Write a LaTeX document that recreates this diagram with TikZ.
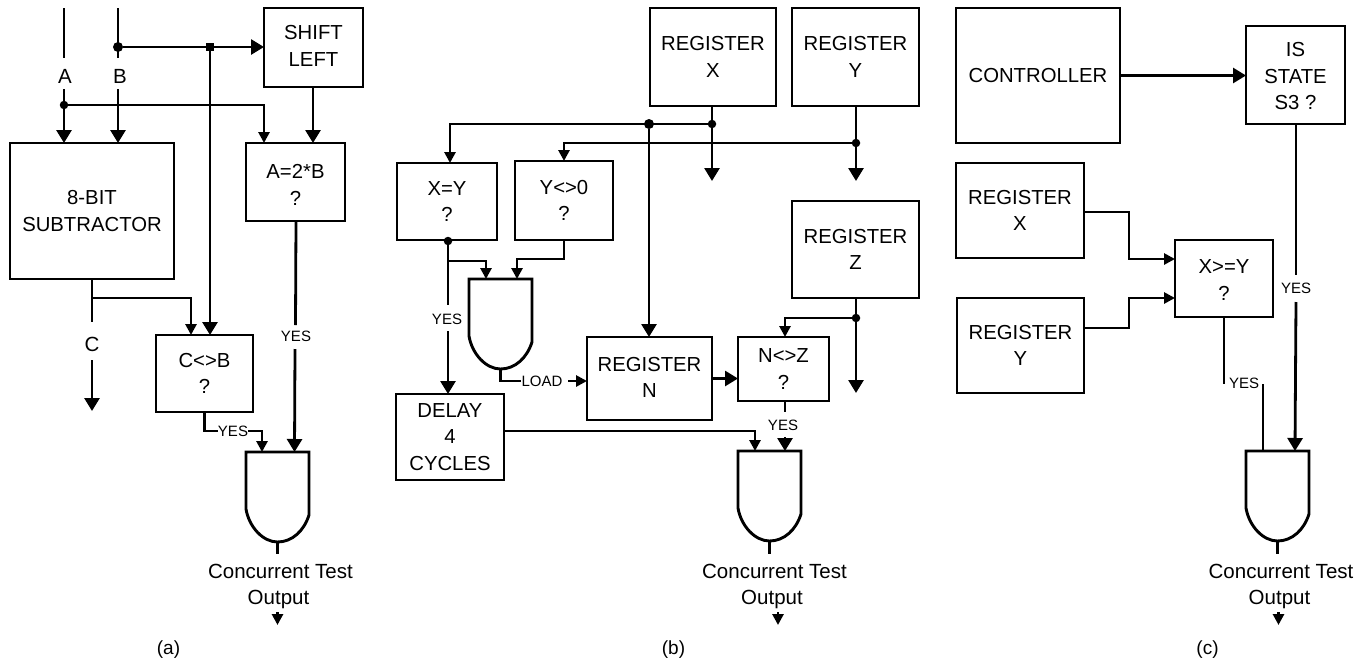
\documentclass[tikz,border=0pt]{standalone}
\usepackage{fontspec}
\setmainfont{Liberation Sans}
\usetikzlibrary{arrows.meta}
\tikzset{
  x=1pt,y=-1pt,
  conn/.style={line width=2.8pt,line join=miter},
  big/.style={conn,-{Triangle[length=13pt,width=15pt]}},
  mid/.style={conn,-{Triangle[length=11pt,width=11pt]}},
  bx/.style={draw,line width=2.9pt,inner sep=0pt,outer sep=0pt,align=center,font=\fontsize{20.3}{26.5}\selectfont},
  lab/.style={inner sep=0pt,font=\fontsize{20.5}{26}\selectfont,align=center},
  capt/.style={inner sep=0pt,font=\fontsize{19}{22}\selectfont},
  yes/.style={inner sep=0pt,font=\fontsize{15}{18}\selectfont},
  dotj/.style={circle,fill,inner sep=0pt,minimum size=10pt},
  dots/.style={circle,fill,inner sep=0pt,minimum size=8.5pt},
  sqj/.style={rectangle,fill,inner sep=0pt,minimum size=8pt},
  gate/.style={inner sep=0pt,outer sep=0pt,minimum width=63pt,minimum height=90pt},
}
% box: name, x0, y0, x1, y1, text
\newcommand{\rbox}[6]{%
  \node[bx,minimum width=#4pt-#2pt,minimum height=#5pt-#3pt] (#1) at ({(#2+#4)/2},{(#3+#5)/2}) {#6};}
% gate: name, left x, top y
\newcommand{\agate}[3]{\node[gate] (#1) at ({#2+31.5},{#3+45}) {};
  \draw[line width=2.9pt,line join=miter]
    (#1.south west |- #1.north) -- (#1.north east) -- ({#2+63},{#3+63})
    .. controls ({#2+58},{#3+79}) and ({#2+46},{#3+90}) .. (#1.south)
    .. controls ({#2+17},{#3+90}) and ({#2+3},{#3+75}) .. ({#2},{#3+57}) -- cycle;}
\begin{document}
\begin{tikzpicture}
\useasboundingbox (0,0) rectangle (1369,667);
% ---------- (a)
\rbox{sl}{264}{8}{363}{87}{SHIFT\\LEFT\rule[-3.4pt]{0pt}{0pt}}
\rbox{sub}{10}{143}{174}{279}{8-BIT\\SUBTRACTOR}
\rbox{ab}{246}{143}{345}{221}{\rule{0pt}{19.5pt}A=2*B\\?}
\rbox{cb}{156}{335}{253}{412}{C<>B\\?}
\agate{ga}{246}{452}
\node[lab] (la) at (65,76) {A};
\node[lab] (lb) at (120,76) {B};
\node[lab] (lc) at (92,344) {C};
\coordinate (atop) at (64,8);
\coordinate (btop) at (118,8);
\node[dotj] (bd) at (118,47) {};
\node[sqj] (bs) at (210,47) {};
\node[dots] (ad) at (64,105) {};
\draw[conn] (atop) -- (64,58);
\draw[conn] (btop) -- (118,58);
\draw[big] (bd) -- (sl.west |- bd);
\draw[big] (bs) -- (bs |- cb.north);
\draw[conn] (64,89) -- (ad);
\draw[big] (ad) -- (ad |- sub.north);
\draw[big] (118,89) -- (118,143);
\draw[mid] (ad) -- (264,105) -- (264,143);
\draw[big] (313,87) -- (313,143);
\coordinate (subj) at (92,298);
\draw[conn] (92,279) -- (92,322);
\draw[mid] (subj) -- (191,298) -- (191,335);
\draw[big] (92,360) -- (92,411);
\node[yes] (y1) at (296,336) {YES};
\draw[conn] (296,221) -- (295.5,325);
\draw[big] (295,349) -- (294.5,452);
\node[yes] (y2) at (233,431) {YES};
\draw[conn] (204.5,412) -- (204.5,431) -- (y2.west);
\draw[mid] (y2.east) -- (262,431) -- (262,452);
\draw[conn] (ga.south) -- (277.5,554);
\node[lab] (cta) at (280.5,571) {Concurrent Test};
\node[lab] (oa) at (278.5,599) {Output};
\coordinate (fa) at (277.5,625);
\draw[mid] (277.5,612) -- (fa);
\node[capt] (capa) at (168.5,650) {(a)};
% ---------- (b)
\rbox{rx}{650}{8}{776}{106}{REGISTER\\X}
\rbox{ry}{792}{8}{919}{106}{REGISTER\\Y}
\rbox{xy}{397}{163}{497}{240}{X=Y\\?}
\rbox{y0}{515}{161}{613}{240}{Y<>0\\?}
\rbox{rz}{792}{201}{919}{298}{REGISTER\\Z}
\rbox{rn}{587}{337}{712}{420}{REGISTER\\N\rule[-2pt]{0pt}{0pt}}
\rbox{nz}{738}{337}{829}{401}{N<>Z\\?}
\rbox{dl}{396}{394}{504}{480}{DELAY\\4\\CYCLES}
\agate{g1}{469}{279}
\agate{g2}{738}{451}
\node[dotj] (xd1) at (649,124) {};
\node[dots] (xd2) at (712,124) {};
\node[dots] (yd) at (856,143) {};
\node[dots] (zd) at (856,318) {};
\node[dots] (qd) at (448,241) {};
\draw[big] (712,106) -- (712,181);
\draw[big] (856,106) -- (856,181);
\draw[mid] (xd2) -- (450,124) -- (450,163);
\draw[big] (xd1) -- (xd1 |- rn.north);
\draw[mid] (yd) -- (564,143) -- (564,161);
\node[yes] (y3) at (447,319) {YES};
\draw[conn] (qd) -- (448,305);
\draw[big] (448,331) -- (448,394);
\draw[mid] (448,261) -- (486,261) -- (486,279);
\draw[mid] (564,240) -- (564,259) -- (517,259) -- (517,279);
\node[yes] (ld) at (542,381) {LOAD};
\draw[conn] (g1.south) -- (g1.south |- ld.west) -- (ld.west);
\draw[mid] (568,381) -- (rn.west |- 568,381);
\draw[big] (rn.east) -- (nz.west |- rn.east);
\draw[big] (856,298) -- (856,393);
\draw[mid] (zd) -- (785,318) -- (785,337);
\draw[conn] (785,401) -- (785,412);
\node[yes] (y4) at (783,425) {YES};
\draw[big] (785,437) -- (785,451);
\draw[mid] (504,431) -- (755,431) -- (755,451);
\draw[conn] (g2.south) -- (769.5,554);
\node[lab] (ctb) at (774.5,571) {Concurrent Test};
\node[lab] (ob) at (772,599) {Output};
\coordinate (fb) at (778,625);
\draw[mid] (778,612) -- (fb);
\node[capt] (capb) at (673.5,650) {(b)};
% ---------- (c)
\rbox{ct}{956}{8}{1120}{143}{CONTROLLER}
\rbox{st}{1246}{26}{1345}{124}{\rule{0pt}{16.5pt}IS\\STATE\\S3 ?}
\rbox{cx}{956}{163}{1084}{258}{REGISTER\\X}
\rbox{cy}{957}{298}{1084}{393}{REGISTER\\Y}
\rbox{ge}{1175}{240}{1273}{317}{\rule{0pt}{16.5pt}X>=Y\\?}
\agate{g3}{1246}{451}
\draw[big] (ct.east) -- (st.west |- ct.east);
\draw[conn] (1296,124) -- (1296,275);
\node[yes] (y5) at (1296,288) {YES};
\draw[big] (1296,302) -- (1295,451);
\draw[mid] (1084,212) -- (1129,212) -- (1129,259) -- (1175,259);
\draw[mid] (1084,328) -- (1129,328) -- (1129,298) -- (1175,298);
\draw[conn] (1224,317) -- (1224,384);
\node[yes] (y6) at (1244,383) {YES};
\draw[conn] (1263,384) -- (1263,451);
\draw[conn] (g3.south) -- (1277.5,554);
\node[lab] (ctc) at (1281,571) {Concurrent Test};
\node[lab] (oc) at (1279.5,599) {Output};
\coordinate (fc) at (1278.5,625);
\draw[mid] (1278.5,612) -- (fc);
\node[capt] (capc) at (1207.5,650) {(c)};
\end{tikzpicture}
\end{document}
